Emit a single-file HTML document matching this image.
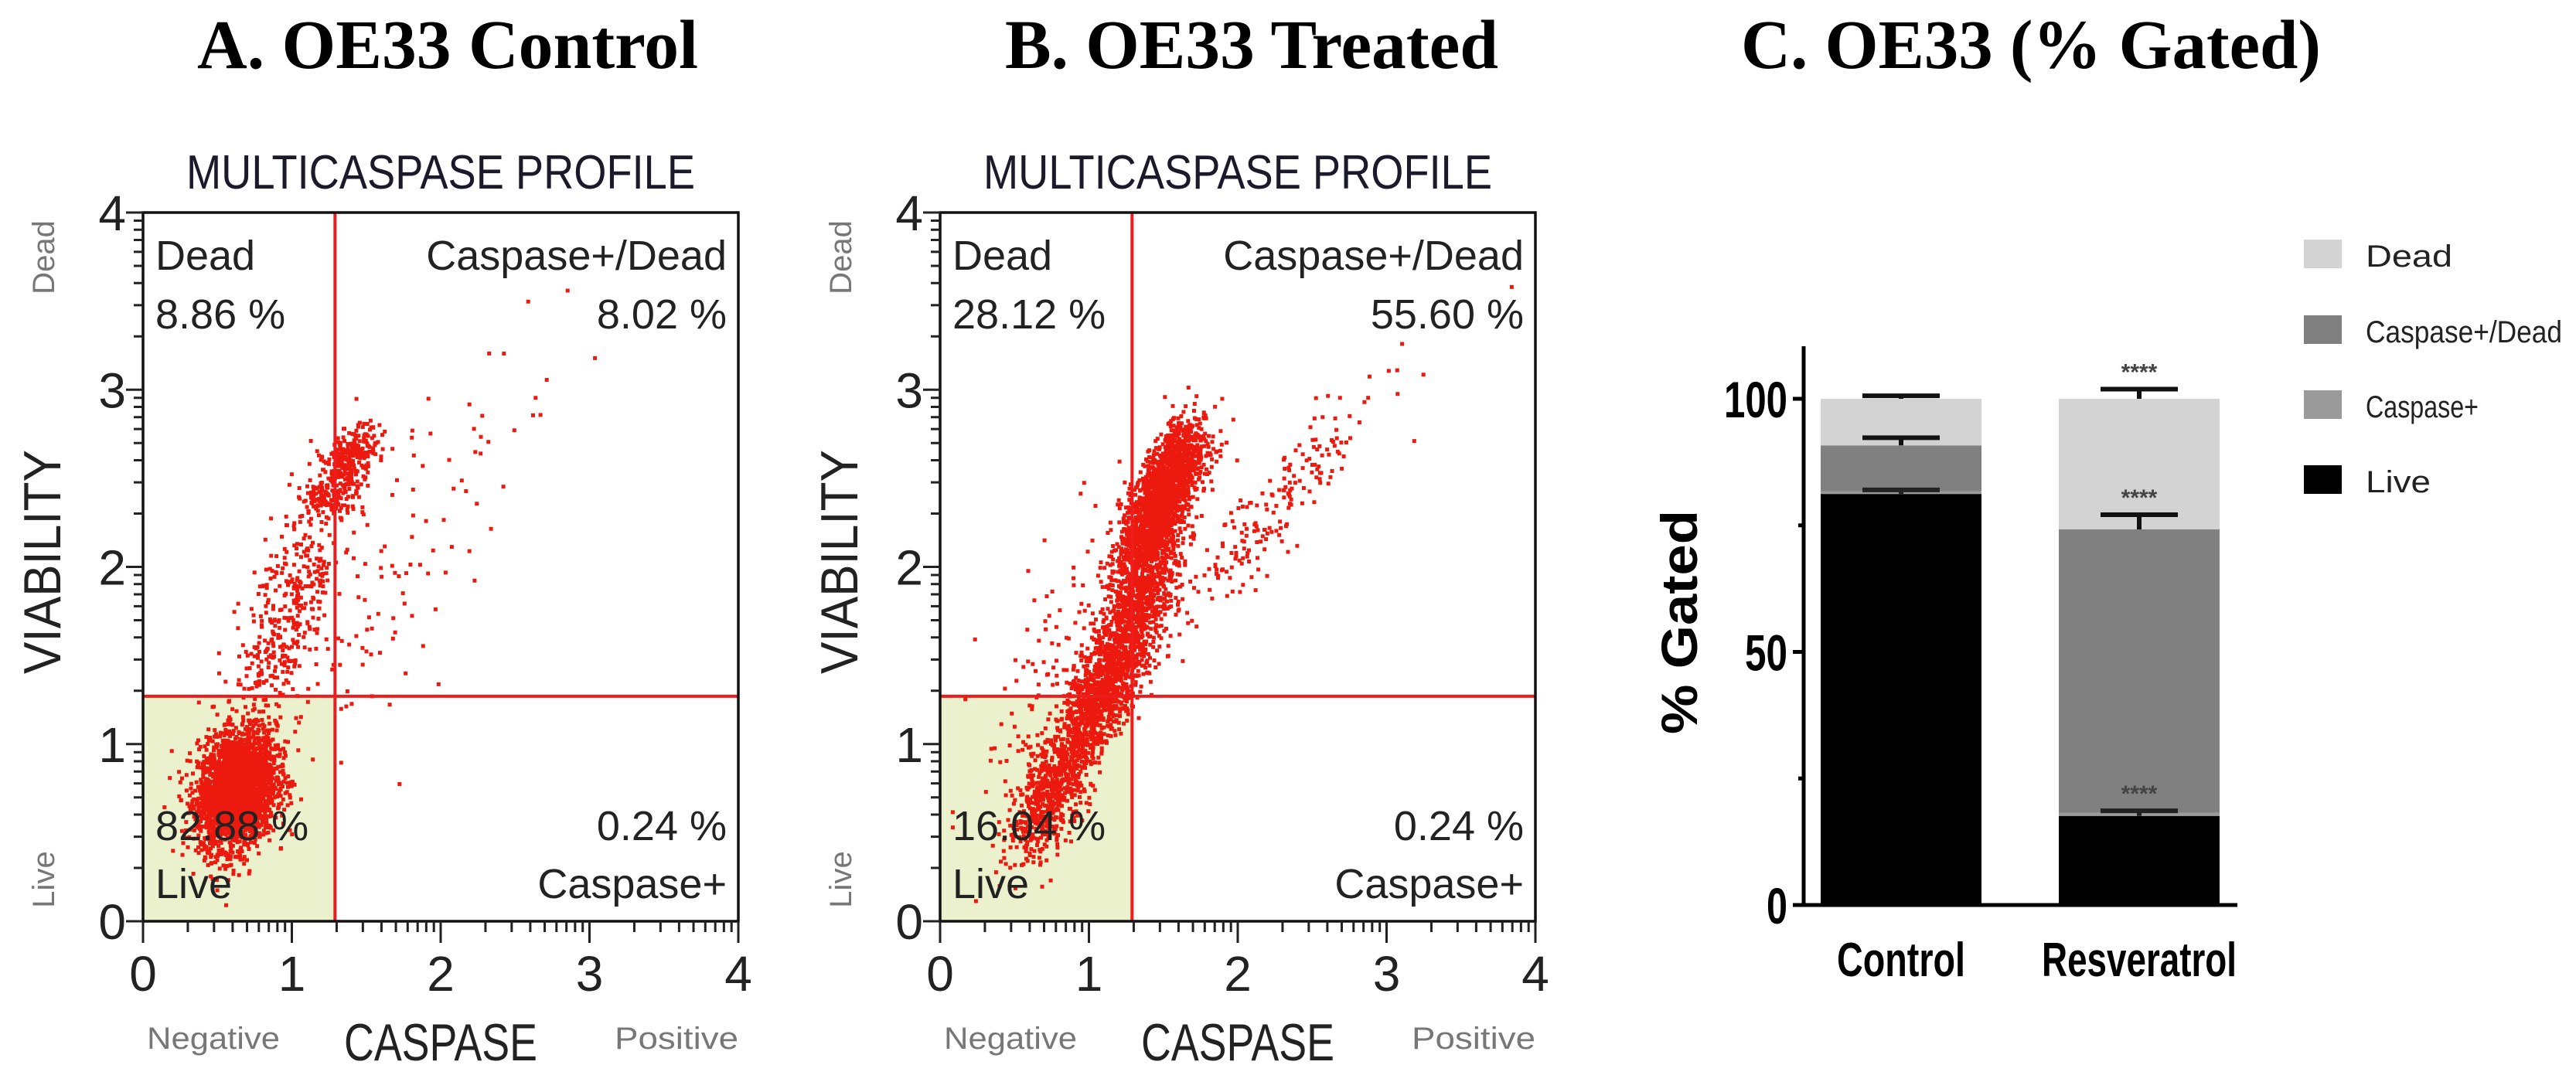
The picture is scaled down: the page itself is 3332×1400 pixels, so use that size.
<!DOCTYPE html>
<html><head><meta charset="utf-8">
<style>
html,body{margin:0;padding:0;background:#fff;}
svg{display:block;}
text{font-family:"Liberation Sans",Arial,sans-serif;}
.ttl{font-family:"Liberation Serif","Times New Roman",serif;font-weight:bold;font-size:90px;fill:#000;}
</style></head>
<body>
<svg id="fig" width="3332" height="1400" viewBox="0 0 3332 1400" xmlns="http://www.w3.org/2000/svg">
<text class="ttl" x="255" y="88" textLength="648" lengthAdjust="spacingAndGlyphs">A. OE33 Control</text>
<text class="ttl" x="1300" y="88" textLength="638" lengthAdjust="spacingAndGlyphs">B. OE33 Treated</text>
<text class="ttl" x="2252" y="88" textLength="750" lengthAdjust="spacingAndGlyphs">C. OE33 (% Gated)</text>
<g id="panelA"></g>
<g id="panelB"></g>
<g id="panelC"></g>
</svg>
<script>
// ===== Scatter data (axis units, 0..4 log decades) =====
const gateX = [1.29, 1.29];
const gateY = [1.27, 1.27];
const quadDeadPct = ["8.86 %", "28.12 %"];
const quadBothPct = ["8.02 %", "55.60 %"];
const quadLivePct = ["82.88 %", "16.04 %"];
const quadCaspPct = ["0.24 %", "0.24 %"];
// cluster specs per panel: [cx, cy, sx, sy, n, corr]
const clustersA = [[0.62,0.75,0.13,0.16,3000,0.2],[0.95,1.7,0.2,0.4,450,0.7],[1.38,2.62,0.09,0.09,260,0.5],[1.25,2.4,0.1,0.05,120,0],[1.65,1.9,0.3,0.5,70,0.6],[2.3,2.7,0.35,0.4,25,0.6]];
const clustersB = [[0.72,0.72,0.14,0.18,600,0.6],[1.05,1.25,0.15,0.2,900,0.7],[1.3,1.75,0.15,0.25,900,0.7],[1.45,2.35,0.13,0.22,1700,0.7],[1.6,2.6,0.12,0.12,300,0.5],[2.2,2.3,0.38,0.36,200,0.92],[0.9,1.5,0.3,0.4,150,0.5]];
const axisTicks = [0,1,2,3,4];

// ===== Bar data =====
const barCategories = ["Control","Resveratrol"];
const liveVals = [81.2, 17.6];
const caspVals = [0.5, 0.6];
const bothVals = [9.1, 56.0];
const deadVals = [9.2, 25.8];
const errLive = [0.8, 1.0];
const errCasp = [0.3, 0.3];
const errBoth = [1.5, 2.9];
const errDead = [0.6, 1.9];
const starsBoth = ["", "****"];
const starsDead = ["", "****"];
const starsLive = ["", "****"];
const yTicksMajor = [0, 50, 100];
const yTicksMinor = [25, 75];
const legendLabels = ["Dead","Caspase+/Dead","Caspase+","Live"];

const NS = "http://www.w3.org/2000/svg";
function mk(tag, attrs, parent, txt){
  const e = document.createElementNS(NS, tag);
  for (const k in attrs) e.setAttribute(k, attrs[k]);
  if (txt !== undefined) e.textContent = txt;
  parent.appendChild(e);
  return e;
}
let seed = 12345;
function rnd(){ seed = (seed*1103515245 + 12345) % 2147483648; return seed/2147483648; }
function gauss(){ let u=rnd()||1e-6, v=rnd(); return Math.sqrt(-2*Math.log(u))*Math.cos(2*Math.PI*v); }

function scatterPanel(g, ox, idx, clusters){
  const L = ox, R = ox + 770, T = 275, B = 1192;
  const sx = v => L + v*(R-L)/4;
  const sy = v => B - v*(B-T)/4;
  const title = mk('text',{x:(L+R)/2,y:244,'text-anchor':'middle','font-size':62,fill:'#1a1a2a',textLength:658,lengthAdjust:'spacingAndGlyphs'},g,'MULTICASPASE PROFILE');
  
  
  const live = mk('rect',{x:L,y:sy(gateY[idx]),width:sx(gateX[idx])-L,height:B-sy(gateY[idx]),fill:'#ebf0cd'},g);
  
  
  const dots = mk('g',{},g);
  
  
  let d = '';
  clusters.forEach(c=>{
    for(let i=0;i<c[4];i++){
      const a=gauss(), b=gauss();
      const x=c[0]+c[2]*a, y=c[1]+c[3]*(c[5]*a+Math.sqrt(1-c[5]*c[5])*b);
      if(x<0.02||x>3.98||y<0.02||y>3.98) continue;
      const px=sx(x), py=sy(y);
      d += 'M'+px.toFixed(1)+' '+py.toFixed(1)+'h5v5h-5z';
    }
  });
  const p = mk('path',{d:d,fill:'#ec1a0e'},dots);
  
  
  const txt = (x,y,anchor,s,name)=>{const t=mk('text',{x:x,y:y,'text-anchor':anchor,'font-size':54,fill:'#222'},g,s);
    
     return t;};
  txt(L+16,349,'start','Dead','quadrant-label-dead');
  txt(L+16,425,'start',quadDeadPct[idx],'quadrant-pct-dead');
  txt(R-15,349,'end','Caspase+/Dead','quadrant-label-caspase-dead');
  txt(R-15,425,'end',quadBothPct[idx],'quadrant-pct-caspase-dead');
  txt(L+16,1087,'start',quadLivePct[idx],'quadrant-pct-live');
  txt(L+16,1162,'start','Live','quadrant-label-live');
  txt(R-15,1087,'end',quadCaspPct[idx],'quadrant-pct-caspase');
  txt(R-15,1162,'end','Caspase+','quadrant-label-caspase');
  const gv = mk('line',{x1:sx(gateX[idx]),x2:sx(gateX[idx]),y1:T,y2:B,stroke:'#ee1c1c','stroke-width':4},g);
  
  
  const gh = mk('line',{x1:L,x2:R,y1:sy(gateY[idx]),y2:sy(gateY[idx]),stroke:'#ee1c1c','stroke-width':4},g);
  
  
  const box = mk('rect',{x:L,y:T,width:R-L,height:B-T,fill:'none',stroke:'#111','stroke-width':3.5},g);
  
  
  let tk='';
  axisTicks.forEach(v=>{ tk+='M'+sx(v)+' '+B+'v28M'+L+' '+sy(v)+'h-22'; });
  for(let dcd=0; dcd<4; dcd++) for(let k=2;k<=9;k++){ const v=dcd+Math.log10(k); tk+='M'+sx(v)+' '+B+'v14M'+L+' '+sy(v)+'h-12'; }
  const ticks = mk('path',{d:tk,stroke:'#222','stroke-width':3,fill:'none'},g);
  
  
  axisTicks.forEach(v=>{
    const tx = mk('text',{x:sx(v),y:1282,'text-anchor':'middle','font-size':64,fill:'#222'},g,String(v));
    
    
    const ty = mk('text',{x:L-22,y:sy(v)+23,'text-anchor':'end','font-size':64,fill:'#222'},g,String(v));
    
    
  });
  const neg = mk('text',{x:L+5,y:1357,'font-size':40,fill:'#777',textLength:172,lengthAdjust:'spacingAndGlyphs'},g,'Negative');
  
  
  const pos = mk('text',{x:R,y:1357,'text-anchor':'end','font-size':40,fill:'#777',textLength:160,lengthAdjust:'spacingAndGlyphs'},g,'Positive');
  
  
  const xt = mk('text',{x:L+385,y:1372,'text-anchor':'middle','font-size':68,fill:'#222',textLength:250,lengthAdjust:'spacingAndGlyphs'},g,'CASPASE');
  
  
  const yt = mk('text',{x:0,y:0,'text-anchor':'middle','font-size':68,fill:'#222',transform:'translate('+(L-107)+',727) rotate(-90)',textLength:290,lengthAdjust:'spacingAndGlyphs'},g,'VIABILITY');
  
  
  const yd = mk('text',{x:0,y:0,'text-anchor':'middle','font-size':40,fill:'#777',transform:'translate('+(L-115)+',333) rotate(-90)'},g,'Dead');
  
  
  const yl = mk('text',{x:0,y:0,'text-anchor':'middle','font-size':40,fill:'#777',transform:'translate('+(L-115)+',1138) rotate(-90)'},g,'Live');
  
  
}
scatterPanel(document.getElementById('panelA'),185,0,clustersA);
scatterPanel(document.getElementById('panelB'),1216,1,clustersB);

// ===== Bar chart =====
(function(){
  const g = document.getElementById('panelC');
  const y0 = 1171, y100 = 516;
  const sy = v => y0 - v*(y0-y100)/100;
  const barX = [2355, 2663], barW = 208;
  const cols = {live:'#000', casp:'#9a9a9a', both:'#808080', dead:'#d3d3d3'};
  barCategories.forEach((cat,i)=>{
    const segs = [['live',liveVals[i]],['casp',caspVals[i]],['both',bothVals[i]],['dead',deadVals[i]]];
    let base = 0;
    const tops=[];
    segs.forEach(s=>{
      const r = mk('rect',{x:barX[i],y:sy(base+s[1]),width:barW,height:sy(base)-sy(base+s[1]),fill:cols[s[0]]},g);
      
      
      base += s[1]; tops.push(base);
    });
    const errs=[errLive[i],errCasp[i],errBoth[i],errDead[i]];
    const stars=[starsLive[i],'',starsBoth[i],starsDead[i]];
    const cx = barX[i]+barW/2;
    tops.forEach((t,k)=>{
      if(k===1) return;
      const ye = sy(t+errs[k]);
      const col = k===0 ? '#222' : '#111';
      const eb = mk('path',{d:'M'+(cx-50)+' '+ye+'h100M'+cx+' '+ye+'V'+sy(t),stroke:col,'stroke-width':6,fill:'none'},g);
      
      
      if(stars[k]){
        const st = mk('text',{x:cx,y:ye-12,'text-anchor':'middle','font-size':30,'font-weight':'bold',fill:'#444'},g,stars[k]);
        
        
      }
    });
    const lb = mk('text',{x:cx,y:1263,'text-anchor':'middle','font-size':62,'font-weight':'bold',fill:'#000',textLength:(i?252:166),lengthAdjust:'spacingAndGlyphs'},g,cat);
    
    
  });
  const ax = mk('path',{d:'M2333 448V'+y0+'M2320 '+y0+'H2894',stroke:'#000','stroke-width':5,fill:'none'},g);
  
  
  yTicksMajor.forEach(v=>{
    const t = mk('line',{x1:2319,x2:2333,y1:sy(v),y2:sy(v),stroke:'#000','stroke-width':5},g);
    
    
    const l = mk('text',{x:2312,y:sy(v)+24,'text-anchor':'end','font-size':66,'font-weight':'bold',fill:'#000',textLength:(v===100?82:(v===50?55:27)),lengthAdjust:'spacingAndGlyphs'},g,String(v));
    
    
  });
  yTicksMinor.forEach(v=>{
    const t = mk('line',{x1:2326,x2:2333,y1:sy(v),y2:sy(v),stroke:'#000','stroke-width':5},g);
    
    
  });
  const yt = mk('text',{x:0,y:0,'text-anchor':'middle','font-size':66,'font-weight':'bold',fill:'#000',transform:'translate(2195,805) rotate(-90)',textLength:290,lengthAdjust:'spacingAndGlyphs'},g,'%   Gated');
  
  
  const lcols=[cols.dead,cols.both,cols.casp,cols.live];
  const ly=[310,408,505,602];
  const lw=[112,254,146,84];
  legendLabels.forEach((s,k)=>{
    const e = mk('g',{},g);
    
    
    mk('rect',{x:2980,y:ly[k],width:49,height:37,fill:lcols[k]},e);
    mk('text',{x:3060,y:ly[k]+35,'font-size':40,fill:'#222',textLength:lw[k],lengthAdjust:'spacingAndGlyphs'},e,s);
  });
})();
</script>
</body></html>
